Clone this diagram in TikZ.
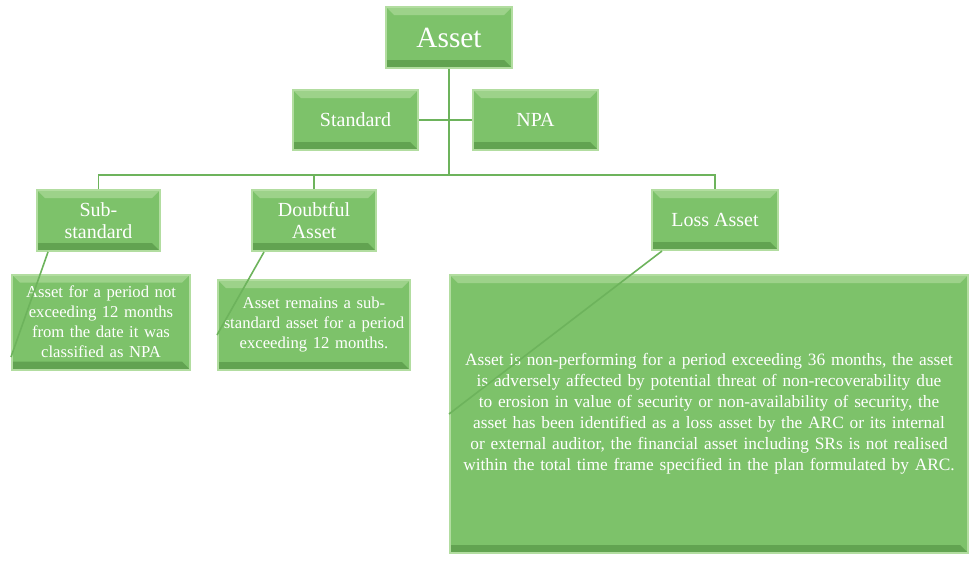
\documentclass[tikz,border=0pt]{standalone}
\usepackage{fontspec}
\setmainfont{Liberation Serif}
\usetikzlibrary{positioning}
\definecolor{boxgreen}{HTML}{7DC26A}
\definecolor{edgegreen}{HTML}{B2DDA0}
\definecolor{shadegreen}{HTML}{62A351}
\definecolor{linegreen}{HTML}{6DB35C}
\newdimen\px \px=0.75pt
\tikzset{
  box/.style={draw=edgegreen, line width=1.5pt, fill=boxgreen, text=white,
    align=center, inner sep=2pt,
    path picture={
      \fill[shadegreen] (path picture bounding box.south east) --
        ++(-8\px,8\px) |- ([shift={(-8\px,8\px)}]path picture bounding box.south west)
        -- (path picture bounding box.south west) -- cycle;
      \fill[edgegreen!60!boxgreen] (path picture bounding box.north west) --
        ++(8\px,-8\px) |- ([shift={(-8\px,-8\px)}]path picture bounding box.north east)
        -- (path picture bounding box.north east) -- cycle;
    }},
  link/.style={draw=linegreen, line width=1.2pt},
}
\begin{document}
\begin{tikzpicture}[x=\px, y=-\px]
  \useasboundingbox (0,0) rectangle (978,561);
  % top levels
  \node[box, minimum width=126\px, minimum height=61\px, font=\fontsize{22}{24}\selectfont] (asset) at (449,37.5) {Asset};
  \node[box, minimum width=125\px, minimum height=60\px, font=\fontsize{15}{17}\selectfont] (std) at (355.5,120) {Standard};
  \node[box, minimum width=125\px, minimum height=60\px, font=\fontsize{15}{17}\selectfont] (npa) at (535.5,120) {NPA};
  % npa classes
  \node[box, minimum width=123\px, minimum height=61\px, font=\fontsize{15}{17}\selectfont] (sub) at (98.5,220.5) {Sub-\\standard};
  \node[box, minimum width=124\px, minimum height=61\px, font=\fontsize{15}{17}\selectfont] (doubt) at (314,220.5) {Doubtful\\Asset};
  \node[box, minimum width=126\px, minimum height=60\px, font=\fontsize{15}{17}\selectfont] (loss) at (715,220) {Loss Asset};
  % descriptions
  \node[box, minimum width=178\px, minimum height=95\px, text width=172\px, font=\fontsize{12.5}{15}\selectfont] (subtxt) at (101,322)
    {Asset for a period not exceeding 12 months from the date it was classified as NPA};
  \node[box, minimum width=192\px, minimum height=90\px, text width=186\px, font=\fontsize{12.5}{15}\selectfont] (doubttxt) at (314,325)
    {Asset remains a sub-standard asset for a period exceeding 12 months.};
  \node[box, minimum width=518\px, minimum height=278\px, text width=510\px, font=\fontsize{13}{15.8}\selectfont] (losstxt) at (709,414)
    {Asset is non-performing for a period exceeding 36 months, the asset is adversely affected by potential threat of non-recoverability due to erosion in value of security or non-availability of security, the asset has been identified as a loss asset by the ARC or its internal or external auditor, the financial asset including SRs is not realised within the total time frame specified in the plan formulated by ARC.};
  % connectors
  \coordinate (bus) at (449,175);
  \draw[link] (asset.south) -- (bus);
  \draw[link] (std.east) -- (npa.west);
  \draw[link] (sub.north) |- (bus) -| (loss.north);
  \draw[link] (doubt.north) -- (doubt.north |- bus);
  \draw[link] ([xshift=12\px]sub.south west) -- ([yshift=-35\px]subtxt.west);
  \draw[link] ([xshift=13\px]doubt.south west) -- ([yshift=-10\px]doubttxt.west);
  \draw[link] ([xshift=11\px]loss.south west) -- (losstxt.west);
\end{tikzpicture}
\end{document}
